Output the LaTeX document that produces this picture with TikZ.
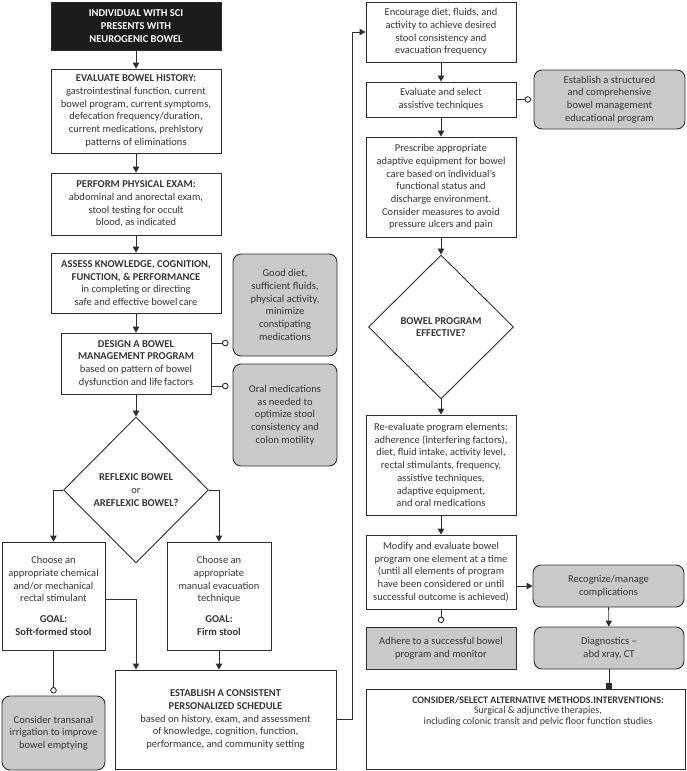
\documentclass[tikz,border=0pt]{standalone}
\usepackage{fontspec}
\setmainfont{Carlito}
\usetikzlibrary{arrows.meta,shapes.geometric}
\definecolor{ln}{HTML}{2E2E2E}
\definecolor{tx}{HTML}{363636}
\definecolor{gr}{HTML}{C9C9C9}
\definecolor{blk}{HTML}{1C1C1C}
\newcommand\basefont{\fontsize{10.5}{12.7}\selectfont}
\newcommand\smallfont{\fontsize{10}{10.6}\selectfont}
\begin{document}
\begin{tikzpicture}[x=1pt,y=-1pt,
  box/.style={draw=ln, line width=0.9pt, fill=white, align=center, inner sep=0pt, text=tx, font=\basefont},
  gbox/.style={box, fill=gr, rounded corners=8pt},
  sz/.style 2 args={minimum width=#1pt, minimum height=#2pt},
  dia/.style={draw=ln, line width=0.9pt, shape=diamond, fill=white, align=center, inner sep=0pt, text=tx, font=\basefont},
  arr/.style={draw=ln, line width=0.9pt, -{Triangle[width=6.5pt,length=6pt]}},
  circ/.style={draw=ln, line width=0.9pt, -{Circle[open,length=6.5pt,fill=white]}},
  sq/.style={draw=ln, line width=0.9pt, -{Square[length=5.5pt]}}]
\useasboundingbox (0,0) rectangle (686,771);

% left column
\node[box, fill=blk, text=white, font=\basefont\bfseries, sz={170}{48}] (top) at (136,26)
  {INDIVIDUAL WITH SCI\\PRESENTS WITH\\NEUROGENIC BOWEL};
\node[box, sz={170}{84}] (eval) at (136,111)
  {\textbf{EVALUATE BOWEL HISTORY:}\\gastrointestinal function, current\\bowel program, current symptoms,\\defecation frequency/duration,\\current medications, prehistory\\patterns of eliminations};
\node[box, sz={170}{62}] (exam) at (136,204)
  {\textbf{PERFORM PHYSICAL EXAM:}\\abdominal and anorectal exam,\\stool testing for occult\\blood, as indicated};
\node[box, sz={170}{60}] (assess) at (136,283)
  {\textbf{ASSESS KNOWLEDGE, COGNITION,}\\\textbf{FUNCTION, \& PERFORMANCE}\\in completing or directing\\safe and effective bowel\,care};
\node[gbox, sz={104}{102}] (diet) at (285,305)
  {Good diet,\\sufficient fluids,\\physical activity,\\minimize\\constipating\\medications};
\node[box, sz={150}{61}] (design) at (136,363.5)
  {\textbf{DESIGN A BOWEL}\\\textbf{MANAGEMENT PROGRAM}\\based on pattern of bowel\\dysfunction and life\,factors};
\node[gbox, sz={104}{102}] (oral) at (285,415)
  {Oral medications\\as needed to\\optimize stool\\consistency and\\colon motility};
\node[dia, minimum width=145pt, minimum height=146pt] (d1) at (136,490)
  {\textbf{REFLEXIC BOWEL}\\or\\\textbf{AREFLEXIC BOWEL?}};
\node[box, sz={103}{108}] (chem) at (53.5,596)
  {Choose an\\appropriate chemical\\and/or mechanical\\rectal stimulant\\[8pt]\textbf{GOAL:}\\\textbf{Soft-formed stool}};
\node[box, sz={104}{108}] (manual) at (219,596)
  {Choose an\\appropriate\\manual evacuation\\technique\\[8pt]\textbf{GOAL:}\\\textbf{Firm stool}};
\node[gbox, sz={103}{74}] (irrig) at (53.5,733)
  {Consider transanal\\irrigation to improve\\bowel emptying};
\node[box, sz={221}{99}] (sched) at (225.5,719.5)
  {\textbf{ESTABLISH A CONSISTENT}\\\textbf{PERSONALIZED SCHEDULE}\\based on history, exam, and assessment\\of knowledge, cognition, function,\\performance, and community setting};

% right column
\node[box, sz={150}{60}] (enc) at (441,32)
  {Encourage diet, fluids, and\\activity to achieve desired\\stool consistency and\\evacuation frequency};
\node[box, sz={150}{35}] (evsel) at (441,99.5)
  {Evaluate and select\\assistive techniques};
\node[gbox, sz={151}{59}] (struct) at (609.5,99.5)
  {Establish a structured\\and comprehensive\\bowel management\\educational program};
\node[box, sz={150}{100}] (presc) at (441,187)
  {Prescribe appropriate\\adaptive equipment for bowel\\care based on individual’s\\functional status and\\discharge environment.\\Consider measures to avoid\\pressure ulcers and pain};
\node[dia, minimum width=145pt, minimum height=144pt] (d2) at (441,327)
  {\textbf{BOWEL PROGRAM}\\\textbf{EFFECTIVE?}};
\node[box, sz={150}{100}] (reeval) at (441,465)
  {Re-evaluate program elements:\\adherence (interfering factors),\\diet, fluid intake, activity level,\\rectal stimulants, frequency,\\assistive techniques,\\adaptive equipment,\\and oral medications};
\node[box, sz={150}{74}] (modify) at (441,572)
  {Modify and evaluate bowel\\program one element at a time\\(until all elements of program\\have been considered or until\\successful outcome is achieved)};
\node[gbox, sz={151}{42}] (recog) at (608.5,586)
  {Recognize/manage\\complications};
\node[box, fill=gr, sz={150}{42}] (adhere) at (441,648)
  {Adhere to a successful bowel\\program and monitor};
\node[gbox, sz={150}{42}] (diag) at (609,648)
  {Diagnostics –\\abd xray, CT};
\node[box, sz={319}{80}] (consider) at (525.5,729) {};
\node[align=center, inner sep=0pt, text=tx, font=\smallfont] (consT) at (538,711)
  {\textbf{CONSIDER/SELECT ALTERNATIVE METHODS.INTERVENTIONS:}\\Surgical \& adjunctive therapies,\\including colonic transit and pelvic floor function studies};

% connectors left
\draw[arr] (top) -- (eval);
\draw[arr] (eval) -- (exam);
\draw[arr] (exam) -- (assess);
\draw[arr] (assess) -- (design);
\draw[arr] (design) -- (d1);
\draw[circ] ([yshift=20.5pt]design.east) -- ([xshift=-4pt,yshift=-38pt]diet.west);
\draw[circ] ([yshift=-22.5pt]design.east) -- ([xshift=-4pt,yshift=29pt]oral.west);
\draw[arr] (d1.west) -| (chem.north);
\draw[arr] (d1.east) -| (manual.north);
\draw[arr] ([yshift=-3pt]chem.east) -| (sched.north -| d1.south);
\draw[arr] (manual.south) -- (sched.north -| manual.south);
\draw[circ] (chem.south) -- ([yshift=2pt]irrig.north);
\draw[arr] (sched.east) -- ++(16,0) |- (enc.west);

% connectors right
\draw[arr] (enc) -- (evsel);
\draw[arr] (evsel) -- (presc);
\draw[circ] (evsel.east) -- ([xshift=-2.5pt]struct.west);
\draw[arr] (presc) -- (d2);
\draw[arr] (d2) -- (reeval);
\draw[arr] (reeval) -- (modify);
\draw[arr] (modify.east |- recog.west) -- (recog.west);
\draw[circ] (modify.south) -- ([yshift=3.5pt]adhere.north);
\draw[arr] (recog) -- (diag);
\draw[sq] (diag.south) -- (diag.south |- consider.north);
\end{tikzpicture}
\end{document}
